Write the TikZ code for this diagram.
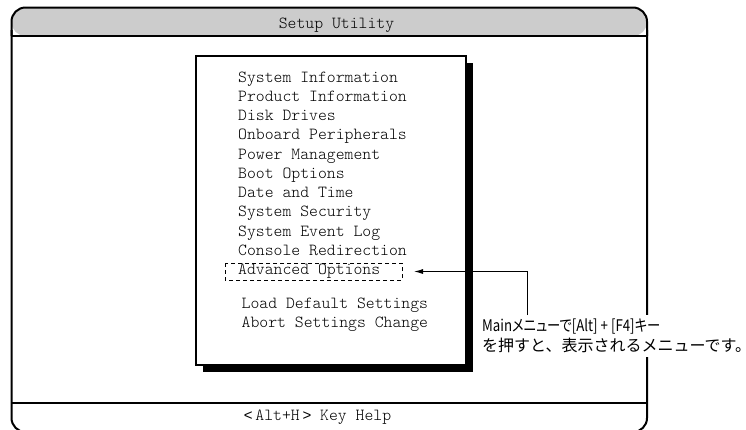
\documentclass[tikz,border=0pt]{standalone}
\usepackage{fontspec}
\setmonofont{lmmonolt10-regular.otf}
\setsansfont{Liberation Sans}
\newfontfamily\jpfont{Noto Sans CJK JP}
\usetikzlibrary{arrows.meta}
\tikzset{
  menuitem/.style={anchor=base west,inner sep=0pt,font=\fontsize{16.9}{18}\ttfamily},
  frameline/.style={line width=2pt},
}
\begin{document}
\begin{tikzpicture}[x=1pt,y=-1pt]
  \useasboundingbox (0,0) rectangle (746,429);
  % outer screen
  \fill[gray!40,rounded corners=14pt] (11.5,36) -- (11.5,7.5) -- (647,7.5) -- (647,36) -- cycle;
  \draw[frameline,rounded corners=14pt] (11.5,36) -- (11.5,7.5) -- (647,7.5) -- (647,36);
  \draw[frameline,rounded corners=14pt] (11.5,30) -- (11.5,432) -- (647,432) -- (647,30);
  \draw[frameline] (11.5,36) -- (647,36);
  \draw[frameline] (11.5,403) -- (647,403);
  \node[font=\fontsize{16.9}{18}\ttfamily,anchor=base] (title) at (336.5,28) {Setup Utility};
  \node[font=\fontsize{16.9}{18}\ttfamily,anchor=base] (help) at (317.5,420)
    {{\sffamily\fontsize{15}{18}\selectfont<}\,Alt+H\,{\sffamily\fontsize{15}{18}\selectfont>} Key Help};
  % menu box with shadow
  \fill (203,63) rectangle (473,372);
  \draw[frameline,fill=white] (196,56) rectangle (466,365);
  \foreach \txt [count=\i] in {System Information,Product Information,Disk Drives,
      Onboard Peripherals,Power Management,Boot Options,Date and Time,
      System Security,System Event Log,Console Redirection,Advanced Options}
    \node[menuitem] (m\i) at (238,{82+(\i-1)*19.25}) {\txt};
  \node[menuitem] (load) at (241.5,308) {Load Default Settings};
  \node[menuitem] (abort) at (241.5,327) {Abort Settings Change};
  \draw[dashed,dash pattern=on 4pt off 3pt,line width=0.9pt] (225,263) rectangle (402,280);
  \coordinate (tip) at (414,271.5);
  % note
  \node[anchor=north west,fill=white,inner xsep=1pt,inner ysep=4pt,align=left,
    font=\fontsize{16}{20}\jpfont] (note) at (481,315)
    {\scalebox{0.83}[1]{\addfontfeature{RawFeature=+palt}Mainメニューで[Alt] + [F4]キー}\\を押すと、表示されるメニューです。};
  \draw[-{Latex[length=9pt,width=5pt]},line width=1pt] (note.north west-|527,0) |- (tip);
\end{tikzpicture}
\end{document}
